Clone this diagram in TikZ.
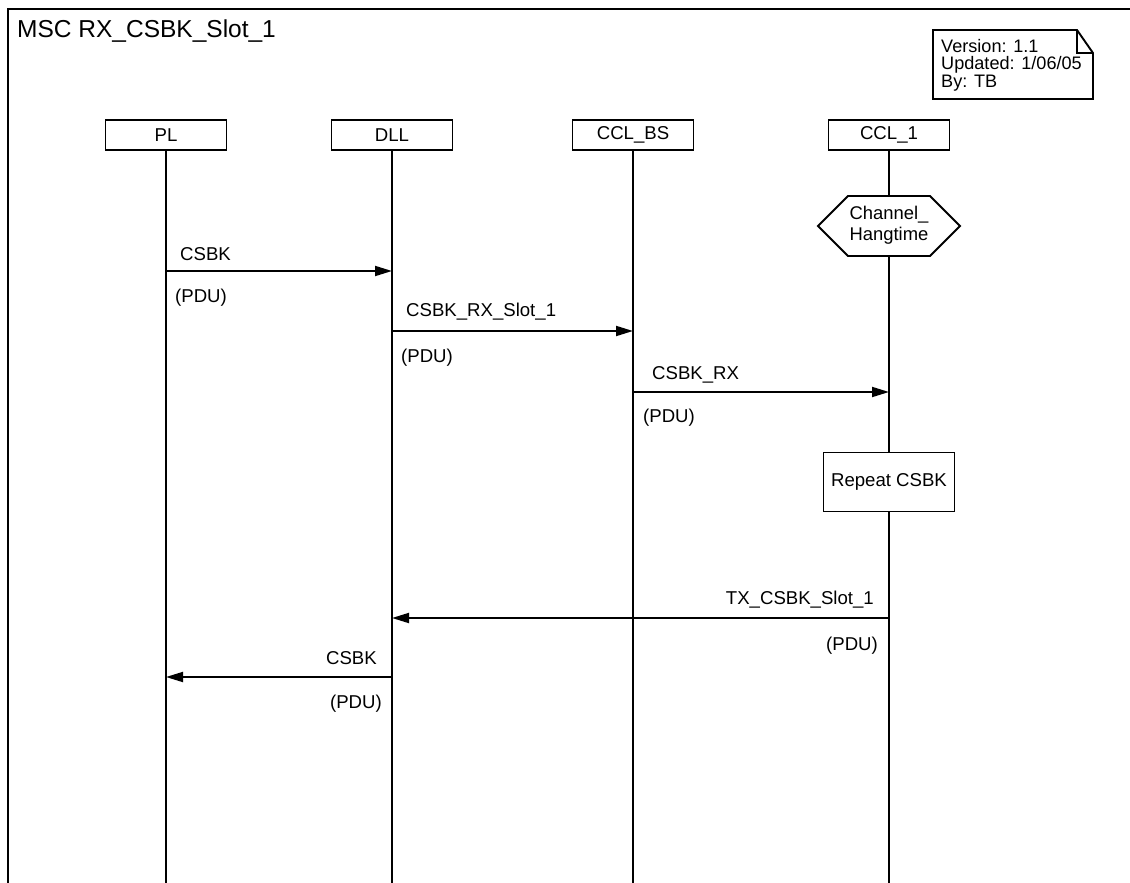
\documentclass[tikz,border=0pt]{standalone}
\usepackage{fontspec}
\setmainfont{Liberation Sans}
\usetikzlibrary{arrows.meta}
\begin{document}
\begin{tikzpicture}[x=1pt,y=-1pt,
  lbl/.style={font=\fontsize{18.6}{18.6}\selectfont, inner sep=0pt},
  inst/.style={draw, line width=1.9pt, minimum width=121pt, minimum height=30pt, inner sep=0pt, font=\fontsize{18.6}{18.6}\selectfont},
  life/.style={line width=1.9pt},
  msg/.style={line width=1.9pt, -{Triangle[length=17pt,width=10pt]}},
  boxshape/.style={draw, fill=white, line width=1.9pt},
]
\useasboundingbox (0,0) rectangle (1130,883);
\draw[line width=1.2pt] (8,883) -- (8,9) -- (1130,9);
\node[lbl, anchor=west, font=\fontsize{24.5}{24.5}\selectfont] (title) at (17,31) {MSC RX\_CSBK\_Slot\_1};

% version note
\draw[line width=1.9pt, fill=white] (933,30) -- (1077,30) -- (1093,53) -- (1093,99) -- (933,99) -- cycle;
\draw[line width=1.9pt] (1077,30) -- (1077,53) -- (1093,53);
\node[lbl, anchor=north west, align=left, font=\fontsize{18.1}{17.6}\selectfont] (note) at (941,39) {Version: 1.1\\Updated: 1/06/05\\By: TB};

% instances
\node[inst] (pl) at (166,135) {PL};
\node[inst] (dll) at (392,135) {DLL};
\node[inst] (bs) at (633,135) {CCL\_BS};
\node[inst] (c1) at (889,135) {CCL\_1};
\coordinate (plend) at (166,883);
\coordinate (dllend) at (392,883);
\coordinate (bsend) at (633,883);
\coordinate (c1end) at (889,883);
\draw[life] (pl.south) -- (plend);
\draw[life] (dll.south) -- (dllend);
\draw[life] (bs.south) -- (bsend);
\draw[life] (c1.south) -- (c1end);

% timer / hexagon
\draw[boxshape] (818,226) -- (848,196) -- (930,196) -- (960,226) -- (930,256) -- (848,256) -- cycle;
\node[lbl, align=center, font=\fontsize{18.4}{21}\selectfont] (hang) at (889,225) {Channel\_\\Hangtime};

% action box
\node[boxshape, lbl, minimum width=131pt, minimum height=59pt] (rep) at (889,482) {Repeat CSBK};

% messages
\draw[msg] (pl |- 0,271) -- (dll |- 0,271);
\node[lbl, anchor=west] (m1) at (180,254) {CSBK};
\node[lbl, anchor=west] (m1p) at (175,298) {(PDU)};

\draw[msg] (dll |- 0,331) -- (bs |- 0,331);
\node[lbl, anchor=west] (m2) at (406,312) {CSBK\_RX\_Slot\_1};
\node[lbl, anchor=west] (m2p) at (401,358) {(PDU)};

\draw[msg] (bs |- 0,392) -- (c1 |- 0,392);
\node[lbl, anchor=west] (m3) at (652,375) {CSBK\_RX};
\node[lbl, anchor=west] (m3p) at (643,418) {(PDU)};

\draw[msg] (c1 |- 0,618) -- (dll |- 0,618);
\node[lbl, anchor=east] (m4) at (874,600) {TX\_CSBK\_Slot\_1};
\node[lbl, anchor=east] (m4p) at (878,646) {(PDU)};

\draw[msg] (dll |- 0,677) -- (pl |- 0,677);
\node[lbl, anchor=east] (m5) at (377,658) {CSBK};
\node[lbl, anchor=east] (m5p) at (382,704) {(PDU)};
\end{tikzpicture}
\end{document}
